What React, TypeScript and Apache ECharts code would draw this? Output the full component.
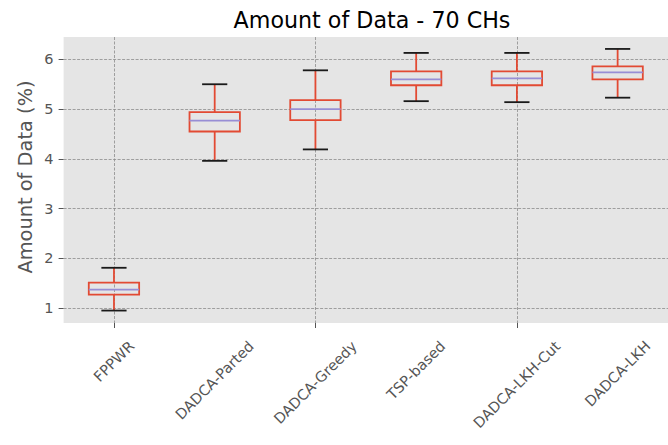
import React, { useEffect, useRef } from "react";
import * as echarts from "echarts";

const categories = ["FPPWR", "DADCA-Parted", "DADCA-Greedy", "TSP-based", "DADCA-LKH-Cut", "DADCA-LKH"];
const whiskerLow = [0.95, 3.96, 4.19, 5.16, 5.14, 5.23];
const q1 = [1.27, 4.55, 4.78, 5.48, 5.48, 5.6];
const median = [1.37, 4.77, 5.0, 5.6, 5.62, 5.74];
const q3 = [1.51, 4.94, 5.18, 5.76, 5.76, 5.86];
const whiskerHigh = [1.81, 5.5, 5.78, 6.13, 6.13, 6.21];
const yTicks = [1, 2, 3, 4, 5, 6];

const TITLE = "Amount of Data - 70 CHs";
const YLABEL = "Amount of Data (%)";
const FONT = "DejaVu Sans";
const RED = "#E24A33";
const PURPLE = "#988ED5";
const GRAY = "#555555";
const Y_MIN = 0.7;
const Y_MAX = 6.45;
const TICK_FONT = 14.5;

export default function App() {
  const ref = useRef<HTMLDivElement>(null);
  useEffect(() => {
    document.body.style.margin = "0";
    const chart = echarts.init(ref.current!, null, { renderer: "svg" });
    const data = categories.map((c, i) => [i, whiskerLow[i], q1[i], median[i], q3[i], whiskerHigh[i]]);
    chart.setOption({
      animation: false,
      backgroundColor: "#ffffff",
      title: {
        text: TITLE,
        left: 367,
        top: 4,
        textAlign: "center",
        textStyle: { fontFamily: FONT, fontSize: 22.2, fontWeight: "normal", color: "#000" },
      },
      grid: { left: 63.6, right: -3.3, top: 37, bottom: 122, show: true, backgroundColor: "#E5E5E5", borderWidth: 0 },
      xAxis: {
        type: "category",
        data: categories,
        boundaryGap: true,
        axisLine: { show: false },
        axisTick: { show: true, alignWithLabel: true, length: 5, lineStyle: { color: GRAY, width: 1 } },
        axisLabel: { show: false },
        splitLine: { show: true, alignWithLabel: true, lineStyle: { color: "#8c8c8c", width: 0.8, type: [3, 1.5] } },
      },
      yAxis: {
        type: "value",
        min: Y_MIN,
        max: Y_MAX,
        axisLine: { show: false },
        axisTick: { show: true, length: 5, lineStyle: { color: GRAY, width: 1 }, customValues: yTicks },
        axisLabel: {
          show: true,
          margin: 10,
          color: GRAY,
          fontFamily: FONT,
          fontSize: TICK_FONT,
          customValues: yTicks,
          formatter: (v: number) => (Number.isInteger(v) ? String(v) : ""),
        },
        splitLine: {
          show: true,
          lineStyle: { color: "#8c8c8c", width: 0.8, type: [3, 1.5] },
        },
      },
      series: [
        {
          type: "custom",
          data,
          encode: { x: 0, y: [1, 2, 3, 4, 5] },
          renderItem: (params: any, api: any) => {
            const i = api.value(0);
            const low = api.coord([i, api.value(1)]);
            const p1 = api.coord([i, api.value(2)]);
            const pm = api.coord([i, api.value(3)]);
            const p3 = api.coord([i, api.value(4)]);
            const high = api.coord([i, api.value(5)]);
            const bw = api.size([1, 0])[0];
            const bh = bw * 0.25;
            const ch = bw * 0.125;
            const x = low[0];
            const lw = 1.8;
            return {
              type: "group",
              children: [
                { type: "rect", shape: { x: x - bh, y: p3[1], width: 2 * bh, height: p1[1] - p3[1] }, style: { fill: "none", stroke: RED, lineWidth: lw } },
                { type: "line", shape: { x1: x, y1: p1[1], x2: x, y2: low[1] }, style: { stroke: RED, lineWidth: lw } },
                { type: "line", shape: { x1: x, y1: p3[1], x2: x, y2: high[1] }, style: { stroke: RED, lineWidth: lw } },
                { type: "line", shape: { x1: x - ch, y1: low[1], x2: x + ch, y2: low[1] }, style: { stroke: "#1a1a1a", lineWidth: lw } },
                { type: "line", shape: { x1: x - ch, y1: high[1], x2: x + ch, y2: high[1] }, style: { stroke: "#1a1a1a", lineWidth: lw } },
                { type: "line", shape: { x1: x - bh, y1: pm[1], x2: x + bh, y2: pm[1] }, style: { stroke: PURPLE, lineWidth: lw } },
              ],
            };
          },
        },
      ],
    });

    const canvas = document.createElement("canvas");
    const ctx = canvas.getContext("2d")!;
    ctx.font = `${TICK_FONT}px "${FONT}"`;
    const yBottom = chart.convertToPixel({ yAxisIndex: 0 }, Y_MIN) as number;
    const plotTop = chart.convertToPixel({ yAxisIndex: 0 }, Y_MAX) as number;
    const labels = categories.map((c, i) => {
      const px = chart.convertToPixel({ xAxisIndex: 0 }, i) as number;
      const w = ctx.measureText(c).width;
      const d = (w + 13) / Math.SQRT2;
      return {
        type: "text",
        x: px,
        y: yBottom + 16 + d / 2,
        rotation: Math.PI / 4,
        style: { text: c, fontFamily: FONT, fontSize: TICK_FONT, fill: GRAY, align: "center", verticalAlign: "middle" },
      };
    });
    chart.setOption({
      graphic: [
        ...labels,
        {
          type: "text",
          x: 25,
          y: (yBottom + plotTop) / 2 - 3,
          rotation: Math.PI / 2,
          style: { text: YLABEL, fontFamily: FONT, fontSize: 19.4, fill: GRAY, align: "center", verticalAlign: "middle" },
        },
      ],
    });
    return () => chart.dispose();
  }, []);
  return <div ref={ref} style={{ width: 668, height: 445 }} />;
}
